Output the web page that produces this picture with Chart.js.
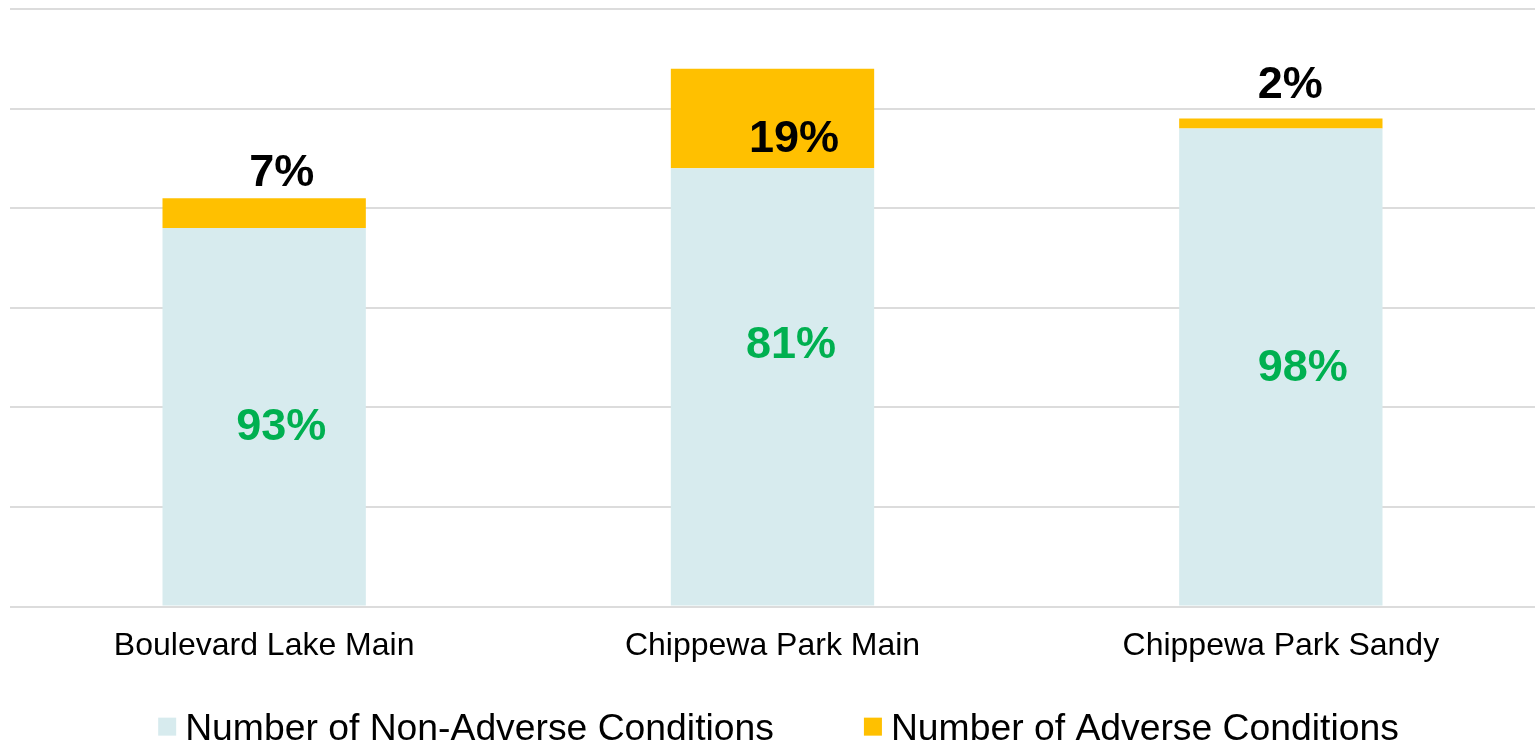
<!DOCTYPE html>
<html>
<head>
<meta charset="utf-8">
<script src="https://cdn.jsdelivr.net/npm/chart.js@4"></script>
<style>
  html, body { margin: 0; padding: 0; background: #ffffff; }
  #wrap { width: 1539px; height: 741px; position: relative; }
</style>
</head>
<body>
<div id="wrap"><canvas id="c" width="1539" height="741"></canvas></div>
<script>
const categories = ['Boulevard Lake Main', 'Chippewa Park Main', 'Chippewa Park Sandy'];
const nonAdverse = [38, 44, 48];
const adverse = [3, 10, 1];
const seriesNames = ['Number of Non-Adverse Conditions', 'Number of Adverse Conditions'];
const yMax = 60;
const yStep = 10;

const FONT = "'Liberation Sans', Arial, Helvetica, sans-serif";

// percentage labels (ink-centre offsets relative to the bar, in px)
const pctLabelPlugin = {
  id: 'pctLabels',
  afterDatasetsDraw(chart, args, opts) {
    const ctx = chart.ctx;
    const totals = categories.map((_, i) => nonAdverse[i] + adverse[i]);
    chart.data.datasets.forEach((ds, di) => {
      const meta = chart.getDatasetMeta(di);
      const cfg = opts.sets[di];
      meta.data.forEach((bar, i) => {
        const pct = Math.round(ds.data[i] / totals[i] * 100) + '%';
        const ref = cfg.anchor === 'center' ? (bar.y + bar.base) / 2 : bar.y;
        const cx = bar.x + cfg.dx[i];
        const cy = ref + cfg.dy[i];
        ctx.save();
        ctx.font = 'bold ' + cfg.size + 'px ' + FONT;
        ctx.fillStyle = cfg.color;
        ctx.textAlign = 'center';
        ctx.textBaseline = 'alphabetic';
        ctx.fillText(pct, cx, cy + 0.358 * cfg.size);
        ctx.restore();
      });
    });
  }
};

// legend drawn from the chart's datasets (row centred under the plot)
const rowLegendPlugin = {
  id: 'rowLegend',
  afterDraw(chart, args, opts) {
    const ctx = chart.ctx;
    ctx.save();
    ctx.font = opts.size + 'px ' + FONT;
    const items = chart.data.datasets.map(ds => ({
      text: ds.label, color: ds.backgroundColor,
      w: opts.box + opts.gap + ctx.measureText(ds.label).width
    }));
    const total = items.reduce((s, it) => s + it.w, 0) + opts.itemGap * (items.length - 1);
    const area = chart.chartArea;
    let x = (area.left + area.right) / 2 + opts.shiftX - total / 2;
    const baseline = chart.height - opts.bottom;
    const capMid = baseline - 0.358 * opts.size;
    items.forEach(it => {
      ctx.fillStyle = it.color;
      ctx.fillRect(x, capMid - opts.box / 2, opts.box, opts.box);
      ctx.fillStyle = '#000000';
      ctx.textAlign = 'left';
      ctx.textBaseline = 'alphabetic';
      ctx.fillText(it.text, x + opts.box + opts.gap, baseline);
      x += it.w + opts.itemGap;
    });
    ctx.restore();
  }
};

new Chart(document.getElementById('c'), {
  type: 'bar',
  data: {
    labels: categories,
    datasets: [
      { label: seriesNames[0], data: nonAdverse, backgroundColor: '#D7EBEE', borderWidth: 0 },
      { label: seriesNames[1], data: adverse, backgroundColor: '#FFC000', borderWidth: 0 }
    ]
  },
  options: {
    responsive: false,
    animation: false,
    layout: { padding: { left: 10, right: 4, top: 9, bottom: 56 } },
    datasets: { bar: { categoryPercentage: 1.0, barPercentage: 0.4 } },
    scales: {
      x: {
        stacked: true,
        grid: { display: false, drawTicks: false },
        border: { display: false },
        ticks: { color: '#000000', padding: 20, font: { family: FONT, size: 32 } }
      },
      y: {
        stacked: true,
        min: 0, max: yMax,
        ticks: { display: false, stepSize: yStep },
        grid: { color: '#dcdcdc', lineWidth: 2, drawTicks: false },
        border: { display: false }
      }
    },
    plugins: {
      tooltip: { enabled: false },
      legend: { display: false },
      rowLegend: { size: 37.3, box: 18, gap: 9, itemGap: 90, shiftX: 6, bottom: 1 },
      pctLabels: {
        sets: [
          { anchor: 'center', color: '#00B050', size: 45, dx: [17, 18.5, 22], dy: [7, -45, -2] },
          { anchor: 'top', color: '#000000', size: 45, dx: [17.5, 21.5, 9.5], dy: [-28, 66.7, -36.6] }
        ]
      }
    }
  },
  plugins: [pctLabelPlugin, rowLegendPlugin]
});
</script>
</body>
</html>
